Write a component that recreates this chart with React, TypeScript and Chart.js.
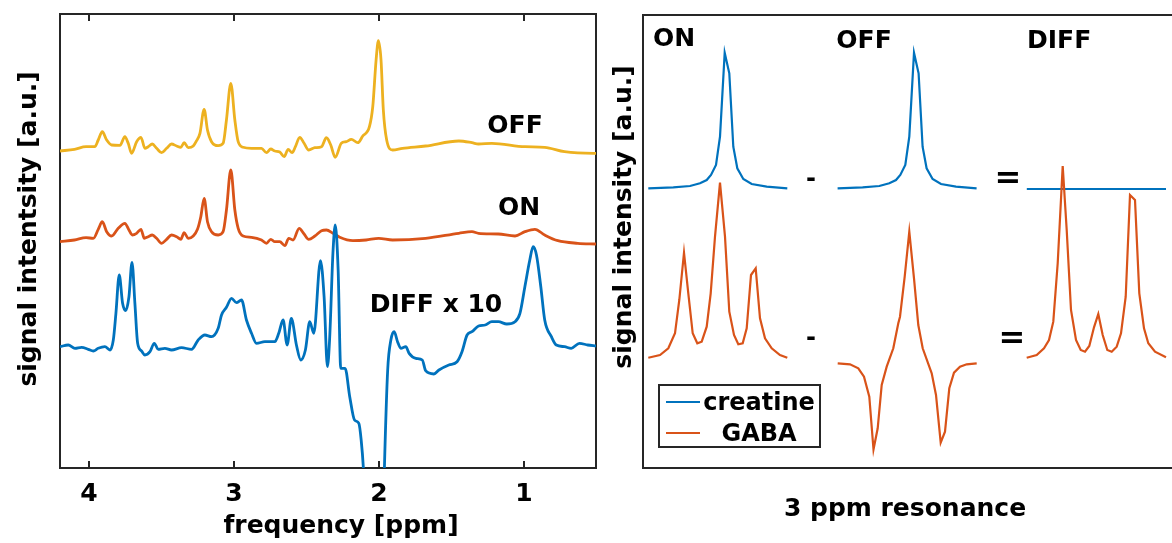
import React, { useEffect, useRef } from "react";
import { Chart, registerables } from "chart.js";

Chart.register(...registerables);

const BLUE = "#0072BD";
const ORANGE = "#D95319";
const YELLOW = "#EDB120";
const AXIS = "#262626";
const FONT = '"DejaVu Sans", "Liberation Sans", sans-serif';
const TEXT_SIZE = 25;

// ---- Left panel: edited MRS spectra, [frequency (ppm), signal (a.u.)] ----
const offSpectrum: [number, number][] = [
  [4.2, 317], [4.1, 318.7], [4.02, 321.3], [3.96, 321.3], [3.936, 328], [3.908, 336.3], [3.878, 328],
  [3.844, 323], [3.786, 322.7], [3.752, 331.3], [3.729, 324.7], [3.706, 314.7], [3.671, 326.3],
  [3.641, 330.7], [3.614, 319.7], [3.591, 321.3], [3.563, 324], [3.533, 319.7], [3.499, 315.3],
  [3.464, 319.7], [3.43, 324], [3.395, 322], [3.366, 320.7], [3.343, 325.3], [3.315, 320.3], [3.28, 322],
  [3.257, 327.3], [3.234, 334.7], [3.205, 358.7], [3.182, 338], [3.154, 326.3], [3.108, 322.3],
  [3.074, 324.7], [3.051, 348], [3.021, 384.7], [2.993, 348], [2.97, 326.3], [2.936, 320.7],
  [2.878, 319.7], [2.809, 319.7], [2.775, 315.3], [2.745, 319], [2.717, 317], [2.683, 316],
  [2.653, 311.3], [2.625, 318.7], [2.598, 315.3], [2.575, 321.3], [2.545, 330.7], [2.515, 324.7],
  [2.483, 318], [2.441, 320.3], [2.395, 321.3], [2.361, 330.3], [2.331, 323], [2.3, 310.7],
  [2.258, 324.7], [2.224, 326.3], [2.189, 328.7], [2.144, 325.3], [2.11, 332], [2.064, 341.3],
  [2.041, 361.3], [2.018, 408], [2.002, 427.3], [1.984, 408], [1.968, 358], [1.945, 328], [1.904, 318],
  [1.836, 319.7], [1.676, 322], [1.447, 327], [1.356, 325.3], [1.311, 324], [1.219, 324.7],
  [0.991, 321.3], [0.854, 320.7], [0.717, 316.3], [0.516, 314.7], [0.5, 314.7],
];

const onSpectrum: [number, number][] = [
  [4.2, 226.3], [4.1, 228], [4.02, 230.3], [3.97, 229.7], [3.936, 238.7], [3.908, 246.3], [3.878, 236.3],
  [3.844, 232], [3.798, 239.7], [3.752, 244.7], [3.724, 238], [3.701, 233], [3.671, 234.7],
  [3.641, 238.7], [3.618, 229.7], [3.591, 231.3], [3.563, 233], [3.533, 229.7], [3.499, 224.7],
  [3.464, 228.7], [3.43, 233], [3.395, 231.3], [3.366, 228.7], [3.343, 235.3], [3.315, 229.7],
  [3.28, 232], [3.251, 238.7], [3.228, 251.3], [3.205, 269.7], [3.182, 246.3], [3.154, 236.3],
  [3.108, 233], [3.074, 236.3], [3.051, 258], [3.021, 298], [2.993, 258], [2.97, 239.7], [2.936, 232],
  [2.878, 230.7], [2.809, 228], [2.775, 224.7], [2.745, 228.7], [2.717, 226.3], [2.683, 226.3],
  [2.648, 222.3], [2.621, 229.7], [2.591, 228], [2.549, 239.7], [2.515, 234], [2.483, 228.7],
  [2.441, 232], [2.395, 237.3], [2.361, 238], [2.315, 234.7], [2.269, 230.7], [2.178, 227.3],
  [2.087, 228], [2.0, 229.7], [1.904, 228], [1.676, 229.7], [1.447, 234.7], [1.356, 236.3],
  [1.311, 234.7], [1.174, 234], [1.059, 232], [0.991, 236.3], [0.922, 238.7], [0.854, 233],
  [0.763, 227.3], [0.626, 224.7], [0.5, 224],
];

const diffSpectrum: [number, number][] = [
  [4.2, 121.3], [4.143, 123], [4.097, 119.7], [4.051, 120.7], [4.005, 118.7], [3.97, 117], [3.936, 119.7],
  [3.89, 121.3], [3.855, 118], [3.832, 128], [3.814, 154.7], [3.791, 193], [3.768, 164.7],
  [3.747, 157.3], [3.724, 171.3], [3.703, 205.7], [3.683, 164.7], [3.664, 124.7], [3.637, 117],
  [3.614, 113], [3.579, 116.3], [3.549, 124.7], [3.522, 118.7], [3.476, 119.7], [3.43, 118],
  [3.361, 120.3], [3.292, 118.7], [3.246, 128], [3.2, 133], [3.154, 131.3], [3.108, 139.7],
  [3.085, 153], [3.051, 160.7], [3.016, 169.7], [2.982, 165.3], [2.947, 168], [2.913, 148],
  [2.878, 134.7], [2.844, 124.7], [2.786, 126.3], [2.717, 126.3], [2.69, 134.7], [2.66, 148],
  [2.632, 123], [2.603, 149.7], [2.568, 123], [2.538, 108], [2.506, 118], [2.476, 146.3],
  [2.448, 134.7], [2.402, 207.3], [2.377, 171.3], [2.354, 101.3], [2.338, 131.3], [2.316, 214.7],
  [2.3, 243], [2.28, 198], [2.262, 99.7], [2.232, 99.7], [2.2, 71.3], [2.167, 48], [2.137, 44.7],
  [2.121, 28], [2.105, -2], [2.07, -120], [2.02, -200], [1.975, -90], [1.961, -2], [1.938, 98],
  [1.916, 128], [1.893, 136.3], [1.87, 126.3], [1.847, 119.7], [1.813, 121.3], [1.79, 114.7],
  [1.744, 109.7], [1.699, 108], [1.676, 97.3], [1.619, 94], [1.584, 98], [1.516, 103], [1.459, 106.3],
  [1.425, 116.3], [1.39, 133], [1.356, 136.3], [1.311, 142], [1.265, 143], [1.219, 146.3],
  [1.174, 146.3], [1.116, 144], [1.059, 146.3], [1.025, 154.7], [0.991, 181.3], [0.957, 208],
  [0.934, 221.3], [0.911, 213], [0.881, 181.3], [0.854, 148], [0.808, 131.3], [0.774, 123],
  [0.717, 121.3], [0.671, 119.7], [0.614, 124.7], [0.557, 123], [0.5, 122],
];

const ppmTicks = [4, 3, 2, 1];

// ---- Right panel: the 3 ppm resonance, [sample position, signal (a.u.)] ----
const creatineOn: [number, number][] = [
  [5.3, 279.7], [30.3, 280.7], [47, 282], [57, 284.7], [63.7, 288], [68, 293], [73, 303], [77, 331.3],
  [81.7, 415.3], [86.3, 394.7], [90.3, 321.3], [94.3, 299.7], [100.3, 289], [108.7, 284],
  [123.7, 281.3], [144.3, 279.7],
];
const creatineOff: [number, number][] = [
  [194.6, 279.7], [219.6, 280.7], [236.3, 282], [246.3, 284.7], [253, 288], [257.3, 293],
  [262.3, 303], [266.3, 331.3], [271, 415.3], [275.6, 394.7], [279.6, 321.3], [283.6, 299.7],
  [289.6, 289], [298, 284], [313, 281.3], [333.6, 279.7],
];
const creatineDiff: [number, number][] = [[383.8, 279], [523, 279]];

const gabaOn: [number, number][] = [
  [5.3, 110.3], [17, 113], [25.3, 119.7], [32, 134.7], [36.3, 168], [41, 215.3], [45.3, 174.7],
  [49.7, 134.7], [54.3, 124.7], [58.7, 126.3], [63.7, 141.3], [67.7, 174.7], [72, 231.3],
  [77, 285.3], [82, 231.3], [86.3, 156.3], [91, 133], [95.3, 123.7], [99.7, 124.7], [103.7, 139.7],
  [108, 193], [112.7, 199.7], [117, 149.7], [122, 129.7], [128.7, 119.7], [137, 113], [144.3, 110.3],
];
const gabaOff: [number, number][] = [
  [194.7, 104.7], [207, 103.7], [215.3, 99.7], [221, 91.3], [226.3, 71.3], [230.5, 18.5],
  [234.7, 39.7], [238.7, 83], [243.7, 101.3], [250.3, 119.7], [255.3, 144.7], [257, 151.3],
  [261.7, 191.3], [266.3, 236.3], [271, 189.7], [275.3, 143], [279.7, 119.7], [288.7, 94.7],
  [293, 73], [297.7, 25.3], [302, 36.3], [306.3, 79.7], [311, 95.3], [317, 101.3], [323.7, 103.7],
  [333.7, 104.7],
];
const gabaDiff: [number, number][] = [
  [383.7, 110.3], [393.7, 113], [401, 119.7], [406, 128], [410.3, 146.3], [414.7, 204.7],
  [419.7, 302], [423.7, 238], [428, 158], [433, 128], [437.7, 118], [442, 116.3], [446.3, 122],
  [451, 140.7], [455.3, 154], [459.7, 133], [464.3, 118], [468.7, 116.3], [473.7, 121.3], [478, 134.7],
  [482.7, 171.3], [487, 273], [492, 268], [496.3, 174.7], [501, 139.7], [505.3, 124.7], [512, 116.3],
  [523, 110.7],
];

const toXY = (pts: [number, number][]) => pts.map(([x, y]) => ({ x, y }));

function drawText(
  ctx: CanvasRenderingContext2D,
  str: string,
  x: number,
  y: number,
  opts: { size?: number; align?: CanvasTextAlign; rotate?: number } = {}
) {
  const { size = TEXT_SIZE, align = "center", rotate = 0 } = opts;
  ctx.save();
  ctx.fillStyle = "#000";
  ctx.font = `bold ${size}px ${FONT}`;
  ctx.textAlign = align;
  ctx.textBaseline = "alphabetic";
  ctx.translate(x, y);
  if (rotate) ctx.rotate(rotate);
  ctx.fillText(str, 0, 0);
  ctx.restore();
}

function drawFrame(chart: Chart) {
  const { ctx, chartArea: a } = chart;
  ctx.save();
  ctx.strokeStyle = AXIS;
  ctx.lineWidth = 2;
  ctx.strokeRect(a.left, a.top, a.right - a.left, a.bottom - a.top);
  ctx.restore();
}

const spectraDecor = {
  id: "spectraDecor",
  beforeDatasetsDraw(chart: Chart) {
    drawFrame(chart);
  },
  afterDraw(chart: Chart) {
    const { ctx, chartArea: a } = chart;
    const xs = chart.scales.x;
    ctx.save();
    ctx.strokeStyle = AXIS;
    ctx.lineWidth = 2;
    for (const t of ppmTicks) {
      const px = Math.round(xs.getPixelForValue(t));
      ctx.beginPath();
      ctx.moveTo(px, a.bottom);
      ctx.lineTo(px, a.bottom - 7);
      ctx.moveTo(px, a.top);
      ctx.lineTo(px, a.top + 7);
      ctx.stroke();
      drawText(ctx, String(t), px, a.bottom + 33);
    }
    ctx.restore();
    drawText(ctx, "frequency [ppm]", 341, 533);
    drawText(ctx, "signal intentsity [a.u.]", 36, 229, { rotate: -Math.PI / 2 });
    drawText(ctx, "OFF", 515, 133);
    drawText(ctx, "ON", 519, 215);
    drawText(ctx, "DIFF x 10", 436, 312);
  },
};

const resonanceDecor = {
  id: "resonanceDecor",
  beforeDatasetsDraw(chart: Chart) {
    drawFrame(chart);
  },
  afterDraw(chart: Chart) {
    const { ctx, chartArea: a } = chart;
    drawText(ctx, "ON", 53, 46, { align: "left" });
    drawText(ctx, "OFF", 264, 48);
    drawText(ctx, "DIFF", 427, 48, { align: "left" });
    drawText(ctx, "-", 211, 186, { size: 24 });
    drawText(ctx, "-", 211, 345, { size: 24 });
    drawText(ctx, "=", 408, 188, { size: 32 });
    drawText(ctx, "=", 412, 348, { size: 32 });
    drawText(ctx, "3 ppm resonance", 305, 516);
    drawText(ctx, "signal intensity [a.u.]", 31, 217, { rotate: -Math.PI / 2 });

    // legend: one entry per distinct dataset label
    const seen = new Map<string, string>();
    for (const ds of chart.data.datasets) {
      if (ds.label && !seen.has(ds.label)) seen.set(ds.label, ds.borderColor as string);
    }
    const order = ["creatine", "GABA"];
    const lx = a.left + 16;
    const ly = a.top + 370;
    ctx.save();
    ctx.fillStyle = "#fff";
    ctx.fillRect(lx, ly, 161, 62);
    ctx.strokeStyle = AXIS;
    ctx.lineWidth = 2;
    ctx.strokeRect(lx, ly, 161, 62);
    order.forEach((name, i) => {
      const cy = ly + 17 + i * 31;
      ctx.strokeStyle = seen.get(name) || "#000";
      ctx.lineWidth = 2;
      ctx.beginPath();
      ctx.moveTo(lx + 7, cy);
      ctx.lineTo(lx + 41, cy);
      ctx.stroke();
      drawText(ctx, name, lx + 100, cy + 8, { size: 24 });
    });
    ctx.restore();
  },
};

function spectraConfig(): any {
  const line = (label: string, data: [number, number][], color: string) => ({
    label,
    data: toXY(data),
    borderColor: color,
    borderWidth: 2.8,
    pointRadius: 0,
    cubicInterpolationMode: "monotone",
    fill: false,
  });
  return {
    type: "line",
    data: {
      datasets: [
        line("DIFF x 10", diffSpectrum, BLUE),
        line("ON", onSpectrum, ORANGE),
        line("OFF", offSpectrum, YELLOW),
      ],
    },
    options: {
      animation: false,
      responsive: false,
      devicePixelRatio: 1,
      events: [],
      layout: { padding: { left: 60, top: 14, right: 4, bottom: 75 } },
      scales: {
        x: { type: "linear", min: 0.5, max: 4.2, reverse: true, display: false },
        y: { type: "linear", min: 0, max: 454, display: false },
      },
      plugins: { legend: { display: false }, tooltip: { enabled: false } },
    },
    plugins: [spectraDecor],
  };
}

function resonanceConfig(): any {
  const line = (label: string, data: [number, number][], color: string) => ({
    label,
    data: toXY(data),
    borderColor: color,
    borderWidth: 2.2,
    pointRadius: 0,
    tension: 0,
    fill: false,
  });
  return {
    type: "line",
    data: {
      datasets: [
        line("GABA", gabaOn, ORANGE),
        line("GABA", gabaOff, ORANGE),
        line("GABA", gabaDiff, ORANGE),
        line("creatine", creatineOn, BLUE),
        line("creatine", creatineOff, BLUE),
        line("creatine", creatineDiff, BLUE),
      ],
    },
    options: {
      animation: false,
      responsive: false,
      devicePixelRatio: 1,
      events: [],
      layout: { padding: { left: 43, top: 15, right: 15, bottom: 75 } },
      scales: {
        x: { type: "linear", min: 0, max: 542, display: false },
        y: { type: "linear", min: 0, max: 453, display: false },
      },
      plugins: { legend: { display: false }, tooltip: { enabled: false } },
    },
    plugins: [resonanceDecor],
  };
}

function ChartCanvas({ makeConfig, left, width }: { makeConfig: () => any; left: number; width: number }) {
  const ref = useRef<HTMLCanvasElement>(null);
  useEffect(() => {
    const chart = new Chart(ref.current as HTMLCanvasElement, makeConfig());
    return () => chart.destroy();
  }, [makeConfig]);
  return (
    <canvas
      ref={ref}
      width={width}
      height={543}
      style={{ position: "absolute", left, top: 0, width, height: 543 }}
    />
  );
}

export default function App() {
  return (
    <div
      style={{
        position: "fixed",
        left: 0,
        top: 0,
        width: 1172,
        height: 543,
        overflow: "hidden",
        background: "#fff",
      }}
    >
      <ChartCanvas makeConfig={spectraConfig} left={0} width={600} />
      <ChartCanvas makeConfig={resonanceConfig} left={600} width={600} />
    </div>
  );
}
